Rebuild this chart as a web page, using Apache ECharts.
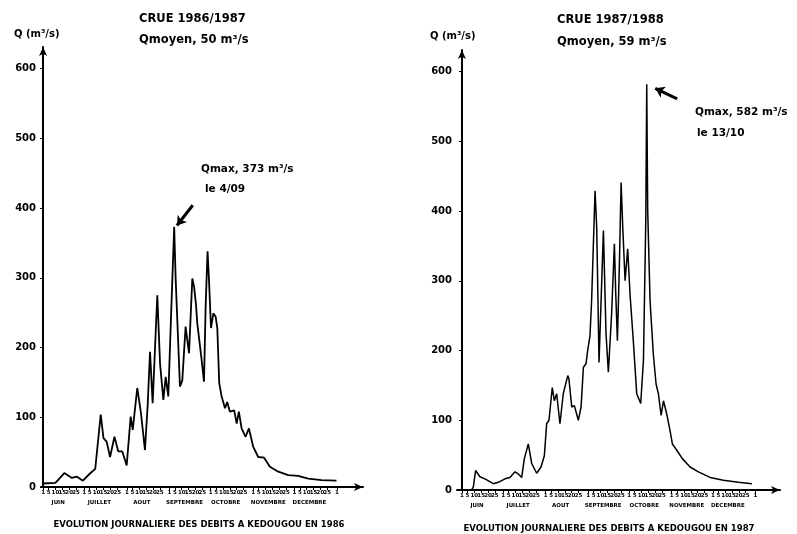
<!DOCTYPE html>
<html>
<head>
<meta charset="utf-8">
<script src="https://cdn.jsdelivr.net/npm/echarts@6/dist/echarts.min.js"></script>
<style>
  html, body { margin: 0; padding: 0; background: #fff; }
  #chart { width: 797px; height: 534px; }
</style>
</head>
<body>
<div id="chart"></div>
<script>
// days counted from 1 June (0 = 1 June), flows in m3/s
var days1986 = [0, 9, 15.5, 21, 24.5, 29, 34, 38, 42, 44, 46.3, 48.8, 52, 54.8, 57.7, 60.9,
  63.8, 65.3, 68.6, 71.3, 74.2, 76.2, 77.9, 79.8, 83.2, 85.2, 87.6, 89.3, 91.2, 93.2, 95.5, 96.6,
  99.7, 101.4, 103.8, 106.3, 108.7, 110, 111.4, 112.3, 113, 115.5, 117.2, 118.4, 119.8, 120.8, 122.3, 124,
  125.7, 126.9, 128.3, 130, 132.5, 134.1, 136.1, 139.2, 141, 142.6, 144.6, 147.5, 149.9, 153, 156.7, 161,
  165.2, 171.3, 178.6, 185.8, 193.1, 202.8, 213.7]
var flow1986 = [5, 6, 20, 13, 15, 9, 19, 26, 104, 70, 65, 43, 72, 51, 51, 31,
  101, 82, 142, 106, 53, 118, 194, 120, 275, 177, 125, 158, 130, 244, 373, 297,
  144, 153, 230, 192, 299, 287, 261, 235, 237, 182, 151, 259, 338, 299, 228, 249,
  244, 228, 149, 130, 113, 122, 108, 110, 91, 108, 84, 72, 84, 58, 43, 42,
  29, 22, 17, 16, 12, 10, 9]

var days1987 = [7, 8.3, 10, 13.1, 16.8, 22.9, 26.5, 31.4, 35, 38.7,
  41.1, 43.6, 45.5, 48.4, 50.9, 54.5, 57.7, 60.1, 61.8, 63.5,
  65.9, 67.4, 69.1, 71.5, 73.9, 77.2, 78, 80.1, 82, 84.9,
  86.9, 88.6, 90.5, 91.7, 93.4, 94.6, 97.1, 98.3, 100, 101,
  103.2, 105.1, 106.8, 109.2, 111.2, 112.2, 113.4, 114.8, 116.1, 117.3,
  119, 120.9, 122.6, 125, 127.5, 130.4, 132.4, 134.1, 134.8, 135.5,
  137.2, 139.6, 141.6, 143.3, 145.3, 147, 149.4, 151.8, 153.5, 156.7,
  160.8, 166.4, 172.5, 181, 190.7, 201.7, 211.5]
var flow1987 = [0, 4, 28, 19, 16, 9, 11, 16, 18, 26,
  23, 18, 45, 66, 38, 24, 33, 49, 95, 100,
  147, 128, 138, 95, 138, 164, 160, 119, 121, 100,
  119, 176, 181, 200, 221, 272, 429, 377, 183, 183,
  372, 224, 169, 253, 353, 281, 214, 319, 441, 377,
  300, 346, 281, 214, 138, 124, 186, 386, 582, 401,
  272, 195, 152, 138, 107, 128, 109, 85, 66, 57,
  45, 33, 26, 18, 14, 11, 9]

var months = ['JUIN', 'JUILLET', 'AOUT', 'SEPTEMBRE', 'OCTOBRE', 'NOVEMBRE', 'DECEMBRE']
var monthLengths = [30, 31, 31, 30, 31, 30, 31]
var dayTicks = [1, 5, 10, 15, 20, 25]
var yTicks = [0, 100, 200, 300, 400, 500, 600]

// arrows pointing at the peaks: [tail, head] in (day, flow)
var arrow1986 = [[109, 404], [97.5, 375]]
var arrow1987 = [[157, 561], [141, 576]]

var tickDays = []
var tickText = {}
var monthMid = []
var monthText = {}
var start = 0
months.forEach(function (m, i) {
  dayTicks.forEach(function (d) {
    tickDays.push(start + d - 1)
    tickText[start + d - 1] = String(d)
  })
  monthMid.push(start + 11)
  monthText[start + 11] = m
  start += monthLengths[i]
})
tickDays.push(start)
tickText[start] = '1'

function pairs(xs, ys) {
  return xs.map(function (x, i) { return [x, ys[i]] })
}

var FONT = 'DejaVu Sans'

function dayAxis(gi, min, max) {
  return {
    type: 'value', gridIndex: gi, min: min, max: max,
    axisLine: { show: true, symbol: ['none', 'arrow'], symbolSize: [6, 9], lineStyle: { color: '#000', width: 2 } },
    axisTick: { show: true, length: 3, customValues: tickDays, lineStyle: { color: '#000' } },
    axisLabel: {
      customValues: tickDays, margin: 3, fontSize: 5.5, fontWeight: 'bold', color: '#000', fontFamily: FONT,
      formatter: function (v) { return tickText[v] || '' }
    },
    splitLine: { show: false }
  }
}
function monthAxis(gi, min, max) {
  return {
    type: 'value', gridIndex: gi, min: min, max: max, position: 'bottom', offset: 11,
    axisLine: { show: false }, axisTick: { show: false },
    axisLabel: {
      customValues: monthMid, margin: 2, fontSize: 5.5, fontWeight: 'bold', color: '#000', fontFamily: FONT,
      formatter: function (v) { return monthText[v] || '' }
    },
    splitLine: { show: false }
  }
}
function flowAxis(gi) {
  return {
    type: 'value', gridIndex: gi, min: 0, max: 631,
    axisLine: { show: true, symbol: ['none', 'arrow'], symbolSize: [6, 9], lineStyle: { color: '#000', width: 2 } },
    axisTick: { show: true, length: 3, customValues: yTicks, lineStyle: { color: '#000' } },
    axisLabel: { customValues: yTicks, margin: 5, fontSize: 10, fontWeight: 'bold', color: '#000', fontFamily: FONT },
    splitLine: { show: false }
  }
}
function flowSeries(xi, yi, data, arrow, w) {
  return {
    type: 'line', xAxisIndex: xi, yAxisIndex: yi, data: data,
    showSymbol: false, smooth: false, silent: true,
    lineStyle: { color: '#000', width: w },
    markLine: {
      silent: true, symbol: ['none', 'arrow'], symbolSize: 9,
      lineStyle: { color: '#000', width: 3, type: 'solid' },
      label: { show: false },
      data: [[{ coord: arrow[0] }, { coord: arrow[1] }]]
    }
  }
}
function txt(x, y, s, size, align) {
  return {
    type: 'text', x: x, y: y, silent: true,
    style: { text: s, fill: '#000', font: 'bold ' + size + 'px ' + FONT, textAlign: align || 'left', textVerticalAlign: 'middle' }
  }
}

var chart = echarts.init(document.getElementById('chart'))
chart.setOption({
  backgroundColor: '#fff',
  animation: false,
  grid: [
    { left: 41, top: 47, width: 322, height: 440 },
    { left: 457, top: 50, width: 323, height: 440 }
  ],
  xAxis: [
    dayAxis(0, -1.5, 233), monthAxis(0, -1.5, 233),
    dayAxis(1, -3.6, 232), monthAxis(1, -3.6, 232)
  ],
  yAxis: [flowAxis(0), flowAxis(1)],
  series: [
    flowSeries(0, 0, pairs(days1986, flow1986), arrow1986, 1.8),
    flowSeries(2, 1, pairs(days1987, flow1987), arrow1987, 1.5)
  ],
  graphic: [
    txt(139, 19, 'CRUE 1986/1987', 11.5),
    txt(139, 40, 'Qmoyen, 50 m³/s', 11.5),
    txt(14, 34, 'Q (m³/s)', 10),
    txt(201, 169, 'Qmax, 373 m³/s', 10.5),
    txt(205, 189, 'le 4/09', 10.5),
    txt(199, 525, 'EVOLUTION JOURNALIERE DES DEBITS A KEDOUGOU EN 1986', 8.5, 'center'),
    txt(557, 20, 'CRUE 1987/1988', 11.5),
    txt(557, 42, 'Qmoyen, 59 m³/s', 11.5),
    txt(430, 36, 'Q (m³/s)', 10),
    txt(695, 112, 'Qmax, 582 m³/s', 10.5),
    txt(697, 133, 'le 13/10', 10.5),
    txt(609, 529, 'EVOLUTION JOURNALIERE DES DEBITS A KEDOUGOU EN 1987', 8.5, 'center')
  ]
})
</script>
</body>
</html>
